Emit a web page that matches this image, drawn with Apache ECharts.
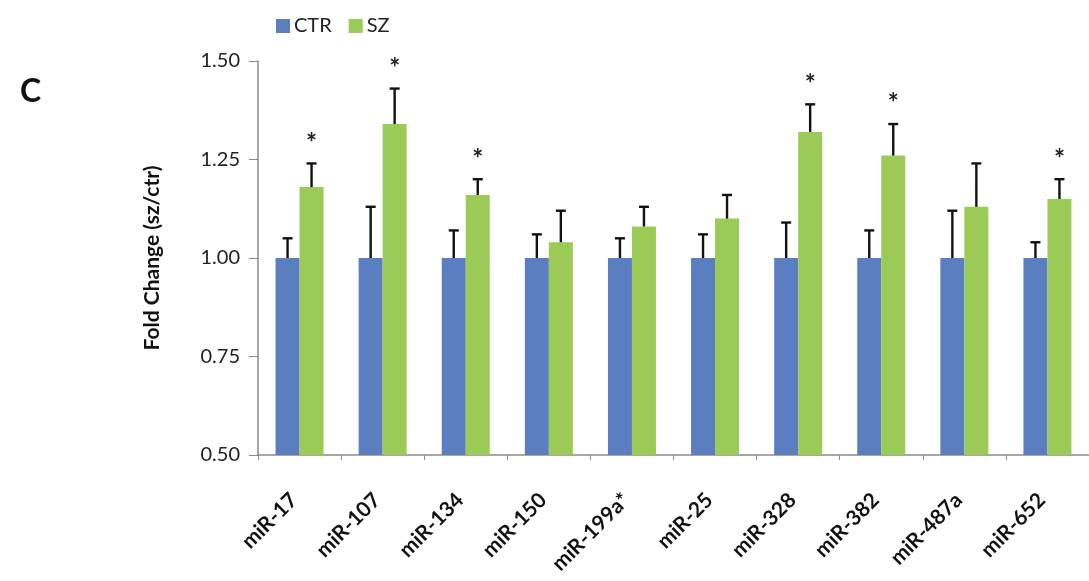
<!DOCTYPE html>
<html>
<head>
<meta charset="utf-8">
<script src="https://cdn.jsdelivr.net/npm/echarts@6/dist/echarts.min.js"></script>
<style>
html,body{margin:0;padding:0;background:#fff;}
#chart{width:1089px;height:581px;}
</style>
</head>
<body>
<div id="chart"></div>
<script>
var categories = ['miR-17','miR-107','miR-134','miR-150','miR-199a*','miR-25','miR-328','miR-382','miR-487a','miR-652'];
var ctrValues = [1.00,1.00,1.00,1.00,1.00,1.00,1.00,1.00,1.00,1.00];
var ctrErrors = [0.05,0.13,0.07,0.06,0.05,0.06,0.09,0.07,0.12,0.04];
var szValues = [1.18,1.34,1.16,1.04,1.08,1.10,1.32,1.26,1.13,1.15];
var szErrors = [0.06,0.09,0.04,0.08,0.05,0.06,0.07,0.08,0.11,0.05];
var szSignificant = [1,1,1,0,0,0,1,1,0,1];
var yTicks = [0.50,0.75,1.00,1.25,1.50];

var FONT = 'Lato, "Open Sans", sans-serif';
var BAR_W = 24;

function errData(vals, errs, sig) {
  return vals.map(function (v, i) {
    return [i, v, v + errs[i], sig ? sig[i] : 0];
  });
}

function makeRender(offset) {
  return function (params, api) {
    var x = api.value(0);
    var base = api.coord([x, api.value(1)]);
    var top = api.coord([x, api.value(2)]);
    var cx = base[0] + offset;
    var children = [
      {type: 'line', shape: {x1: cx, y1: base[1], x2: cx, y2: top[1]},
       style: {stroke: '#111', lineWidth: 2.4}},
      {type: 'line', shape: {x1: cx - 5, y1: top[1], x2: cx + 5, y2: top[1]},
       style: {stroke: '#111', lineWidth: 2.4}}
    ];
    if (api.value(3)) {
      children.push({type: 'text', x: cx, y: top[1] - 20,
        style: {text: '*', fontSize: 26, fontWeight: 'bold', fontFamily: FONT, fill: '#222',
                align: 'center', verticalAlign: 'middle'}});
    }
    return {type: 'group', children: children};
  };
}

var chart = echarts.init(document.getElementById('chart'), null, {renderer: 'canvas'});
chart.setOption({
  backgroundColor: '#fff',
  animation: false,
  graphic: [{type: 'text', left: 20, top: 76,
    style: {text: 'C', fontSize: 32, fontWeight: 'bold', fontFamily: FONT, fill: '#111'}}],
  legend: {
    left: 271, top: 11, itemWidth: 14, itemHeight: 14, itemGap: 17,
    icon: 'rect',
    data: ['CTR', 'SZ'],
    textStyle: {fontSize: 20, fontFamily: FONT, color: '#222', padding: [0, 0, 0, -1]}
  },
  grid: {left: 258, top: 61, width: 837, height: 394, containLabel: false},
  xAxis: {
    type: 'category', data: categories,
    axisLine: {lineStyle: {color: '#8a8a8a', width: 1.5}},
    axisTick: {show: true, length: 5, lineStyle: {color: '#8a8a8a'}},
    axisLabel: {rotate: 45, margin: 36, fontSize: 21, fontWeight: 'bold', fontFamily: FONT,
      color: '#111', interval: 0, padding: [0, 8, 0, 0]}
  },
  yAxis: {
    type: 'value', min: 0.5, max: 1.5, interval: 0.25,
    name: 'Fold Change (sz/ctr)', nameLocation: 'middle', nameGap: 95, nameRotate: 90,
    nameTextStyle: {fontSize: 21, fontWeight: 'bold', fontFamily: FONT, color: '#111'},
    axisLine: {show: true, lineStyle: {color: '#8a8a8a', width: 1.5}},
    axisTick: {show: true, length: 9, lineStyle: {color: '#8a8a8a'}},
    splitLine: {show: false},
    axisLabel: {fontSize: 20, fontFamily: FONT, color: '#222', margin: 18,
      formatter: function (v) { return v.toFixed(2); }}
  },
  series: [
    {name: 'CTR', type: 'bar', data: ctrValues, barWidth: BAR_W, barGap: '0%',
     itemStyle: {color: '#5A7EC0'}},
    {name: 'SZ', type: 'bar', data: szValues, barWidth: BAR_W, barGap: '0%',
     itemStyle: {color: '#9BCB56'}},
    {name: 'CTR err', type: 'custom', data: errData(ctrValues, ctrErrors),
     renderItem: makeRender(-BAR_W / 2), z: 5,
     encode: {x: 0, y: [1, 2]}},
    {name: 'SZ err', type: 'custom', data: errData(szValues, szErrors, szSignificant),
     renderItem: makeRender(BAR_W / 2), z: 5,
     encode: {x: 0, y: [1, 2]}}
  ]
});
</script>
</body>
</html>
